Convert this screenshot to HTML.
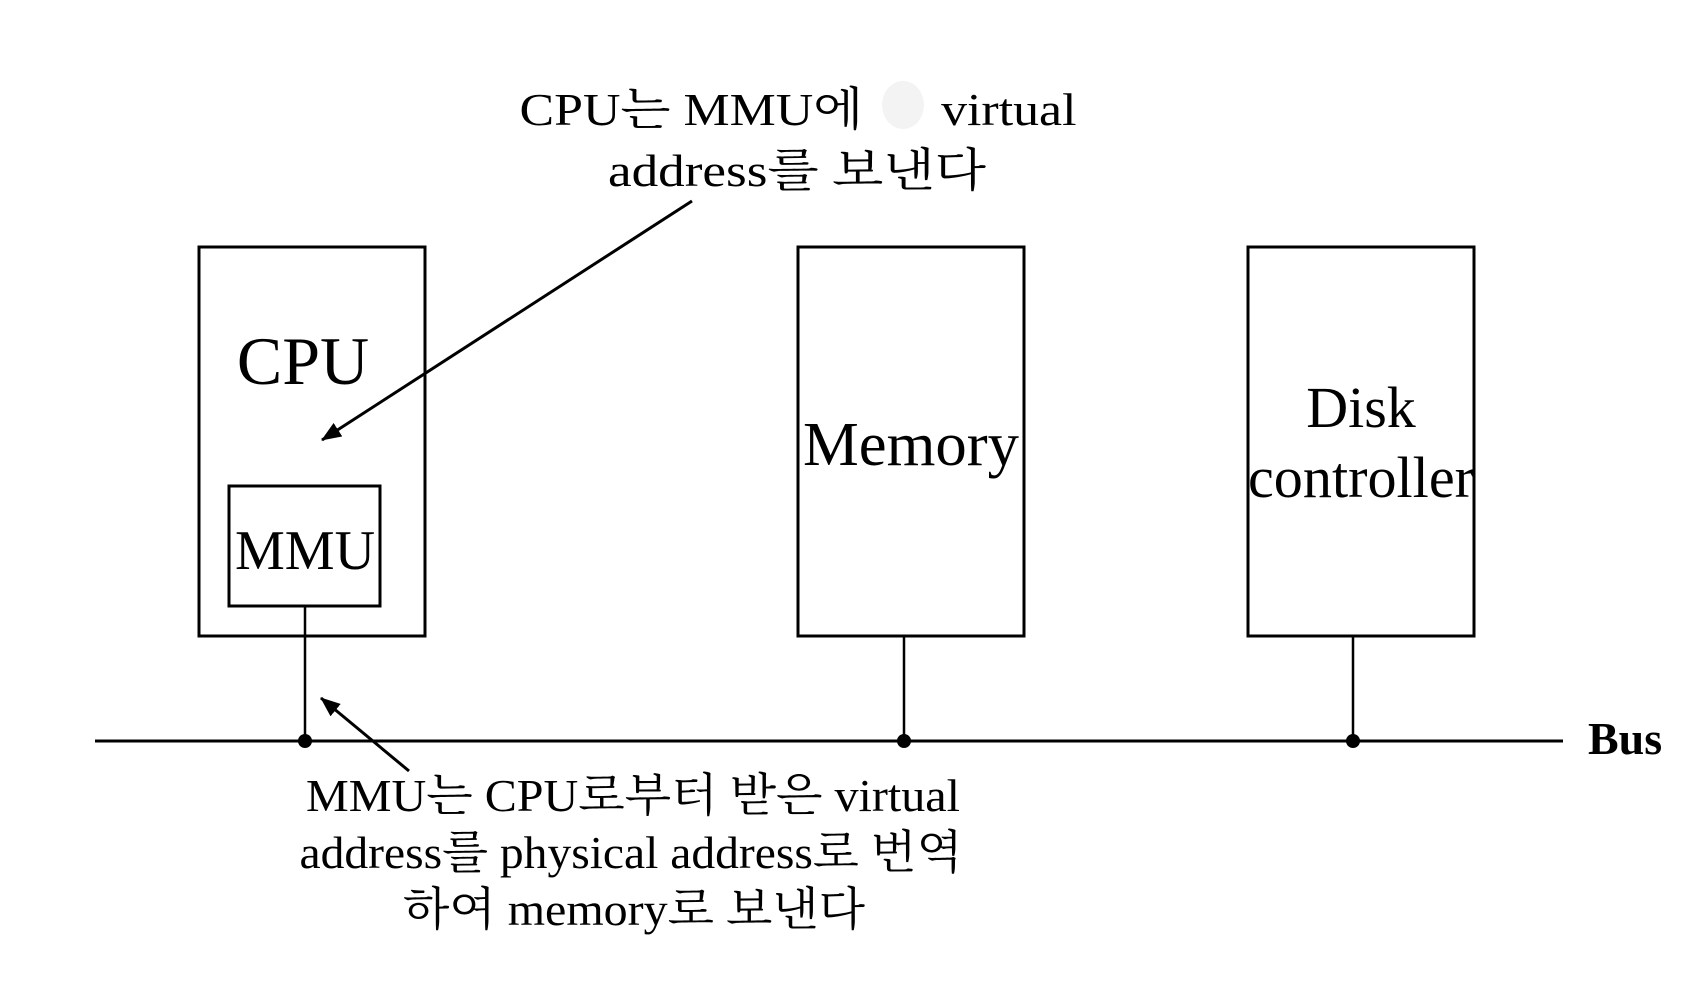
<!DOCTYPE html>
<html><head><meta charset="utf-8"><style>html,body{margin:0;padding:0;background:#fff}svg{display:block}</style></head>
<body>
<svg width="1687" height="1000" viewBox="0 0 1687 1000" xmlns="http://www.w3.org/2000/svg" font-family="'Liberation Serif','Noto Serif CJK SC','Noto Sans CJK KR',serif">
<defs><marker id="ah" markerWidth="10" markerHeight="10" refX="9" refY="5" orient="auto" markerUnits="userSpaceOnUse" viewBox="0 0 10 10"><path d="M0,0 L10,5 L0,10 z" fill="#000"/></marker>
<marker id="ah2" markerWidth="20" markerHeight="16" refX="19" refY="8" orient="auto" markerUnits="userSpaceOnUse"><path d="M0,0 L20,8 L0,16 z" fill="#000"/></marker></defs>
<g fill="none" stroke="#000" stroke-width="3">
<rect x="199" y="247" width="226" height="389"/>
<rect x="229" y="486" width="151" height="120"/>
<rect x="798" y="247" width="226" height="389"/>
<rect x="1248" y="247" width="226" height="389"/>
<line x1="95" y1="741" x2="1563" y2="741"/>
<line x1="305" y1="606" x2="305" y2="741" stroke-width="2.5"/>
<line x1="904" y1="636" x2="904" y2="741" stroke-width="2.5"/>
<line x1="1353" y1="636" x2="1353" y2="741" stroke-width="2.5"/>
<line x1="692" y1="201" x2="322" y2="440" marker-end="url(#ah2)"/>
<line x1="409" y1="771" x2="321" y2="698" marker-end="url(#ah2)"/>
</g>
<g fill="#000"><circle cx="305" cy="741" r="7"/><circle cx="904" cy="741" r="7"/><circle cx="1353" cy="741" r="7"/></g>
<ellipse cx="903" cy="105" rx="21" ry="24" fill="#f3f3f3"/>
<g text-anchor="middle" fill="#000">
<text x="303" y="384" font-size="68">CPU</text>
<text x="305" y="569" font-size="56" textLength="140" lengthAdjust="spacingAndGlyphs">MMU</text>
<text x="911" y="465" font-size="62" textLength="216" lengthAdjust="spacingAndGlyphs">Memory</text>
<text x="1361" y="427" font-size="58">Disk</text>
<text x="1361" y="497" font-size="58" textLength="226" lengthAdjust="spacingAndGlyphs">controller</text>
<text x="798" y="125" font-size="46" textLength="557" lengthAdjust="spacingAndGlyphs">CPU는 MMU에 &#160;&#160;&#160;&#160; virtual</text>
<text x="797" y="186" font-size="46" textLength="378" lengthAdjust="spacingAndGlyphs">address를 보낸다</text>
<text x="633" y="811" font-size="46" textLength="654" lengthAdjust="spacingAndGlyphs">MMU는 CPU로부터 받은 virtual</text>
<text x="631" y="868" font-size="46" textLength="663" lengthAdjust="spacingAndGlyphs">address를 physical address로 번역</text>
<text x="634" y="925" font-size="46" textLength="462" lengthAdjust="spacingAndGlyphs">하여 memory로 보낸다</text>
</g>
<text x="1588" y="754" font-size="46" font-weight="bold" fill="#000">Bus</text>
</svg>
</body></html>
